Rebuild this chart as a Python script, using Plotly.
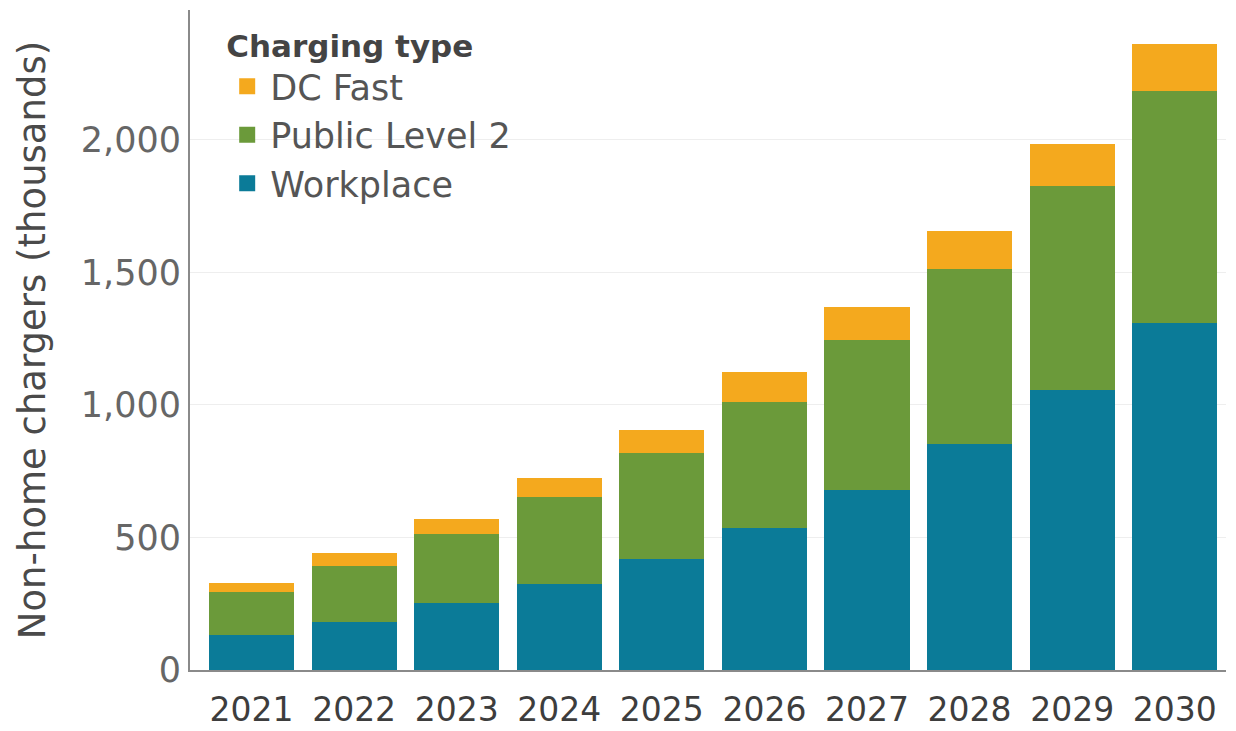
import plotly.graph_objects as go

# Non-home charger projections (thousands), stacked by charging type
years = ["2021", "2022", "2023", "2024", "2025", "2026", "2027", "2028", "2029", "2030"]
workplace = [132, 181, 253, 325, 419, 536, 679, 853, 1057, 1309]
public_level2 = [162, 211, 260, 328, 400, 475, 566, 660, 769, 876]
dc_fast = [34, 50, 57, 72, 87, 114, 125, 144, 159, 177]

y_ticks = [0, 500, 1000, 1500, 2000]
y_tick_text = ["0", "500", "1,000", "1,500", "2,000"]

teal = "#0b7b98"
green = "#6b9a3a"
orange = "#f4a91e"

series = [
    ("Workplace", workplace, teal),
    ("Public Level 2", public_level2, green),
    ("DC Fast", dc_fast, orange),
]

fig = go.Figure()
for name, values, color in series:
    fig.add_trace(go.Bar(x=years, y=values, name=name, marker_color=color,
                         marker_line_width=0, legendgroup=name, showlegend=False))
    # square legend key for the series
    fig.add_trace(go.Scatter(x=[None], y=[None], mode="markers", name=name,
                             legendgroup=name,
                             marker=dict(symbol="square", size=16, color=color)))

font_family = "DejaVu Sans, Open Sans, sans-serif"

fig.update_layout(
    width=1236,
    height=731,
    barmode="stack",
    bargap=0.17,
    plot_bgcolor="white",
    paper_bgcolor="white",
    margin=dict(l=190, r=10, t=10, b=61),
    font=dict(family=font_family, color="#555555", size=30),
    legend=dict(
        title=dict(text="<b>Charging type</b>", font=dict(size=31, color="#444444")),
        traceorder="reversed",
        x=0.033, y=0.99, xanchor="left", yanchor="top",
        font=dict(size=35, color="#555555"),
        bgcolor="rgba(0,0,0,0)",
        tracegroupgap=1,
        itemsizing="trace",
        itemwidth=36,
    ),
    xaxis=dict(
        type="category",
        range=[-0.6, 9.5],
        automargin=False,
        showline=True, linecolor="#8a8a8a", linewidth=2,
        ticks="", showgrid=False,
        ticklabelstandoff=9,
        tickfont=dict(size=33, color="#3d3d3d"),
    ),
    yaxis=dict(
        range=[0, 2490],
        automargin=False,
        tickvals=y_ticks, ticktext=y_tick_text,
        showline=True, linecolor="#8a8a8a", linewidth=2,
        showgrid=True, gridcolor="#eeeeee", gridwidth=1,
        zeroline=False, ticks="",
        ticklabelstandoff=0,
        tickfont=dict(size=35, color="#666666"),
        title=dict(text="Non-home chargers (thousands)", standoff=24,
                   font=dict(size=37, color="#4a4a4a")),
    ),
)

fig.write_html("out.html")
